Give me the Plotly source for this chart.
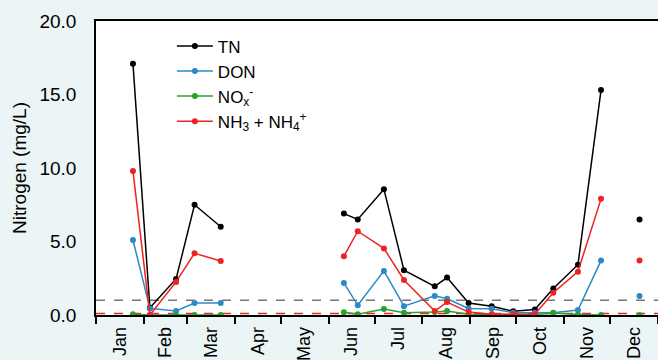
import plotly.graph_objects as go

dates = ["2021-01-25", "2021-02-05", "2021-02-22", "2021-03-06", "2021-03-23", None,
         "2021-06-11", "2021-06-20", "2021-07-07", "2021-07-20", "2021-08-09", "2021-08-17",
         "2021-08-31", "2021-09-15", "2021-09-29", "2021-10-13", "2021-10-25", "2021-11-10",
         "2021-11-25", None, "2021-12-20"]
gap_dates = {5: "2021-05-01", 19: "2021-12-07"}
x_dates = [d if d is not None else gap_dates[i] for i, d in enumerate(dates)]

tn = [17.1, 0.5, 2.45, 7.5, 6.0, None, 6.9, 6.5, 8.55, 3.05, 1.95, 2.55, 0.82, 0.6, 0.25, 0.37, 1.8, 3.42, 15.3, None, 6.5]
don = [5.1, 0.45, 0.27, 0.82, 0.82, None, 2.18, 0.66, 3.0, 0.6, 1.3, 1.1, 0.45, 0.43, 0.16, 0.16, 0.16, 0.34, 3.7, None, 1.3]
nox = [0.05, 0.0, 0.0, 0.0, 0.0, None, 0.18, 0.05, 0.4, 0.15, 0.2, 0.27, 0.05, 0.03, 0.02, 0.02, 0.13, 0.03, 0.0, None, 0.0]
nh = [9.8, 0.0, 2.25, 4.2, 3.67, None, 4.0, 5.7, 4.53, 2.38, 0.27, 0.88, 0.2, 0.05, 0.05, 0.05, 1.52, 2.95, 7.9, None, 3.7]

series_names = ["TN", "DON", "NO<sub>x</sub><sup>-</sup>", "NH<sub>3</sub> + NH<sub>4</sub><sup>+</sup>"]
series_values = [tn, don, nox, nh]
series_colors = ["#000000", "#2a8ac6", "#2ca02c", "#ee2222"]

ref_lines = [1.0, 0.1]
ref_colors = ["#777777", "#ee2222"]

x_start, x_end = "2021-01-01", "2022-01-01"
y_ticks = [0, 5, 10, 15, 20]

FONT = "Liberation Sans, Arial, sans-serif"

fig = go.Figure()

for val, col in zip(ref_lines, ref_colors):
    fig.add_trace(go.Scatter(x=[x_start, x_end], y=[val, val], mode="lines",
                             line=dict(color=col, width=1.5, dash="dash"),
                             showlegend=False, hoverinfo="skip"))

for name, vals, col in zip(series_names, series_values, series_colors):
    fig.add_trace(go.Scatter(x=x_dates, y=vals, mode="lines+markers", name=name,
                             line=dict(color=col, width=1.5),
                             marker=dict(color=col, size=6),
                             connectgaps=False))

fig.update_layout(
    width=658, height=360,
    margin=dict(l=96, r=0, t=21, b=45),
    paper_bgcolor="#ecf5f6",
    plot_bgcolor="#ffffff",
    font=dict(family=FONT, size=17, color="#000000"),
    legend=dict(x=0.135, y=0.975, xanchor="left", yanchor="top", itemwidth=36,
                bgcolor="rgba(0,0,0,0)", font=dict(size=17), tracegroupgap=0),
    xaxis=dict(type="date", range=[x_start, x_end], tick0="2021-01-01", dtick="M1",
               tickformat="%b", ticklabelmode="period", tickangle=-90,
               ticks="outside", ticklen=7, tickcolor="#000000", tickwidth=1.5,
               ticklabelstandoff=-4, automargin=False,
               showline=True, linecolor="#000000", linewidth=1.5, mirror=True,
               showgrid=False, zeroline=False, tickfont=dict(size=18, family=FONT)),
    yaxis=dict(range=[0, 20], tickvals=y_ticks, tickformat=".1f", automargin=False,
               showline=True, linecolor="#000000", linewidth=1.5,
               showgrid=False, zeroline=False, ticks="", ticklabelstandoff=14,
               title=dict(text="Nitrogen (mg/L)", font=dict(size=19), standoff=8),
               tickfont=dict(size=19)),
)

fig.write_html("out.html")
